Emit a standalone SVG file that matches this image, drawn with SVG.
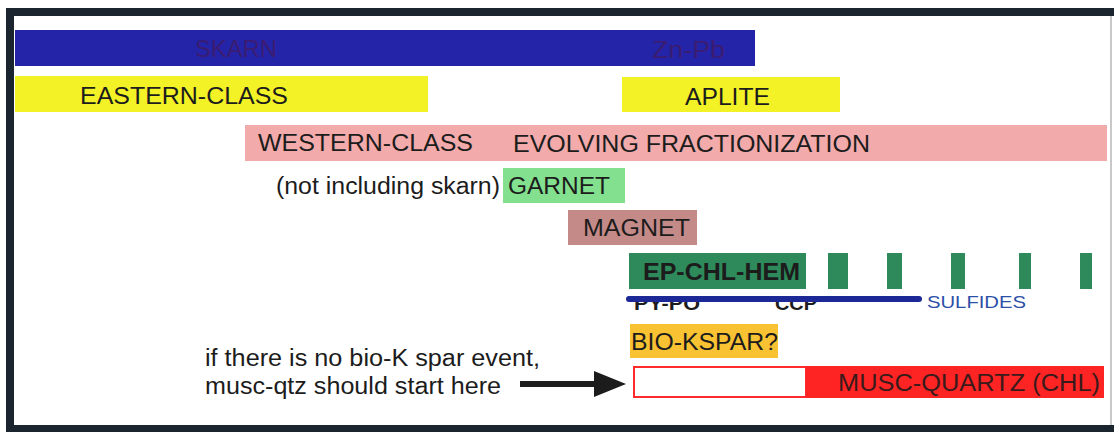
<svg xmlns="http://www.w3.org/2000/svg" width="1114" height="432" viewBox="0 0 1114 432">
<style>
  text { font-family: "Liberation Sans", Arial, sans-serif; fill: #1c1c1c; }
  .lbl { font-size: 23px; }
  .dim { fill: #3a1c72; font-size: 23px; }
  .bold { font-weight: bold; }
  .bar-green { fill: #2e8a5a; }
</style>
<rect x="0" y="0" width="1114" height="432" fill="#ffffff"/>
<g id="frame">
  <rect x="6" y="8" width="1108" height="8" fill="#1b2530"/>
  <rect x="6" y="8" width="8" height="424" fill="#1b2530"/>
  <rect x="6" y="425" width="1108" height="7" fill="#1b2530"/>
  <rect x="1110" y="16" width="2" height="409" fill="#c8c8c8"/>
</g>
<g id="skarn">
  <rect x="15" y="30" width="740" height="36" fill="#2424a8"/>
  <text class="dim" x="195" y="57" textLength="82" lengthAdjust="spacingAndGlyphs">SKARN</text>
  <text class="dim" x="652" y="58" textLength="73" lengthAdjust="spacingAndGlyphs">Zn-Pb</text>
</g>
<g id="eastern-class">
  <rect x="15" y="76" width="413" height="36" fill="#f2f226"/>
  <text class="lbl" x="80" y="104" textLength="208" lengthAdjust="spacingAndGlyphs">EASTERN-CLASS</text>
</g>
<g id="aplite">
  <rect x="622" y="77" width="218" height="35" fill="#f2f226"/>
  <text class="lbl" x="685" y="105" textLength="85" lengthAdjust="spacingAndGlyphs">APLITE</text>
</g>
<g id="western-class">
  <rect x="245" y="125" width="862" height="36" fill="#f2aaaa"/>
  <text class="lbl" x="258" y="151" textLength="215" lengthAdjust="spacingAndGlyphs">WESTERN-CLASS</text>
  <text class="lbl" x="513" y="152" textLength="357" lengthAdjust="spacingAndGlyphs">EVOLVING FRACTIONIZATION</text>
</g>
<g id="garnet">
  <text class="lbl" x="276" y="194" textLength="224" lengthAdjust="spacingAndGlyphs">(not including skarn)</text>
  <rect x="503" y="168" width="122" height="35" fill="#82e08e"/>
  <text class="lbl" x="508" y="194" textLength="102" lengthAdjust="spacingAndGlyphs">GARNET</text>
</g>
<g id="magnet">
  <rect x="568" y="210" width="129" height="35" fill="#c48a88"/>
  <text class="lbl" x="583" y="236" textLength="107" lengthAdjust="spacingAndGlyphs">MAGNET</text>
</g>
<g id="ep-chl-hem">
  <rect class="bar-green" x="629" y="253" width="177" height="36"/>
  <text class="lbl bold" x="643" y="280" textLength="157" lengthAdjust="spacingAndGlyphs">EP-CHL-HEM</text>
  <rect class="bar-green" x="828" y="253" width="20" height="36"/>
  <rect class="bar-green" x="887" y="253" width="15" height="36"/>
  <rect class="bar-green" x="951" y="253" width="14" height="36"/>
  <rect class="bar-green" x="1019" y="253" width="12" height="36"/>
  <rect class="bar-green" x="1080" y="253" width="12" height="36"/>
</g>
<g id="sulfides">
  <text class="bold" x="634" y="310" font-size="19" textLength="66" lengthAdjust="spacingAndGlyphs">PY-PO</text>
  <text class="bold" x="775" y="310" font-size="19" textLength="42" lengthAdjust="spacingAndGlyphs">CCP</text>
  <line x1="629" y1="299" x2="919" y2="299" stroke="#1c2896" stroke-width="6" stroke-linecap="round"/>
  <text x="927" y="308" font-size="17" style="fill:#2c4fa8" textLength="99" lengthAdjust="spacingAndGlyphs">SULFIDES</text>
</g>
<g id="bio-kspar">
  <rect x="630" y="324" width="148" height="34" fill="#f8c232"/>
  <text class="lbl" x="631" y="350" textLength="147" lengthAdjust="spacingAndGlyphs">BIO-KSPAR?</text>
</g>
<g id="musc-quartz">
  <rect x="634" y="367" width="172" height="30" fill="#ffffff" stroke="#ff2a2a" stroke-width="2"/>
  <rect x="806" y="366" width="298" height="32" fill="#ff2424"/>
  <text class="lbl" x="838" y="391" style="fill:#3a1a1a" textLength="262" lengthAdjust="spacingAndGlyphs">MUSC-QUARTZ (CHL)</text>
</g>
<g id="note">
  <text class="lbl" x="205" y="366" textLength="335" lengthAdjust="spacingAndGlyphs">if there is no bio-K spar event,</text>
  <text class="lbl" x="205" y="394" textLength="296" lengthAdjust="spacingAndGlyphs">musc-qtz should start here</text>
</g>
<g id="connectors">
  <line x1="520" y1="384" x2="596" y2="384" stroke="#1c1c1c" stroke-width="6"/>
  <polygon points="594,371 626,384 594,397" fill="#1c1c1c"/>
</g>
</svg>
